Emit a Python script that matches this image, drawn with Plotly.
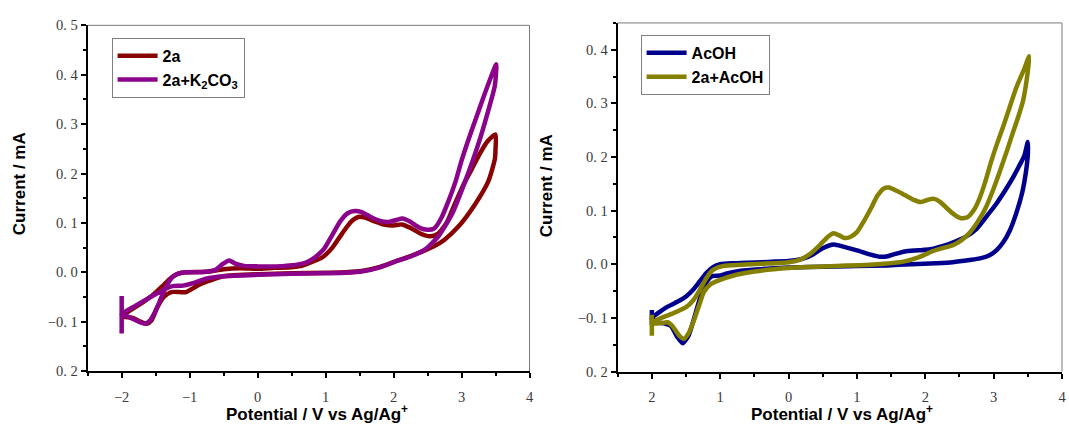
import plotly.graph_objects as go

W, H = 1069, 434

# ---------------- data ----------------
x_2a = [-2.00, -1.85, -1.70, -1.55, -1.40, -1.28, -1.18, -1.05, -0.76, -0.50, -0.25, 0.00, 0.25, 0.50, 0.65, 0.80, 0.95,
        1.10, 1.25, 1.38, 1.48, 1.58, 1.72, 1.88, 2.00, 2.12, 2.25, 2.40, 2.54, 2.65, 2.78, 2.90, 3.02, 3.15, 3.28, 3.38, 3.50,
        3.50, 3.49, 3.39, 3.20, 2.95, 2.75, 2.60, 2.47, 2.27, 2.07, 1.80, 1.55, 1.30, 1.00, 0.50, 0.00, -0.50, -0.61,
        -0.86, -1.05, -1.15, -1.27, -1.38, -1.48, -1.56, -1.63, -1.72, -1.85, -2.00]
y_2a = [-0.088, -0.075, -0.062, -0.047, -0.028, -0.012, -0.003, 0.000, 0.001, 0.006, 0.008, 0.007, 0.009, 0.010, 0.013, 0.021, 0.030,
        0.050, 0.080, 0.103, 0.112, 0.111, 0.103, 0.096, 0.095, 0.097, 0.090, 0.078, 0.073, 0.078, 0.100, 0.138, 0.175, 0.209, 0.243, 0.265, 0.279,
        0.250, 0.229, 0.183, 0.138, 0.092, 0.066, 0.053, 0.045, 0.034, 0.024, 0.011, 0.003, 0.000, -0.001, -0.002, -0.004, -0.008, -0.012,
        -0.025, -0.040, -0.040, -0.040, -0.050, -0.072, -0.097, -0.104, -0.100, -0.092, -0.090]

x_k2co3 = [-2.00, -1.90, -1.78, -1.66, -1.58, -1.50, -1.42, -1.33, -1.24, -1.12, -0.95, -0.76, -0.62, -0.52, -0.42, -0.32, -0.20,
           0.00, 0.20, 0.40, 0.60, 0.72, 0.85, 0.98, 1.10, 1.22, 1.33, 1.43, 1.53, 1.65, 1.80, 1.93, 2.04, 2.13, 2.24, 2.37, 2.50,
           2.60, 2.71, 2.81, 2.91, 3.00, 3.10, 3.20, 3.30, 3.44, 3.51,
           3.49, 3.39, 3.25, 3.05, 2.86, 2.66, 2.47, 2.27, 2.07, 1.80, 1.55, 1.30, 1.00, 0.50, 0.00, -0.50, -0.76, -0.95,
           -1.10, -1.25, -1.35, -1.60, -1.80, -2.00]
y_k2co3 = [-0.085, -0.090, -0.098, -0.104, -0.097, -0.078, -0.052, -0.025, -0.008, -0.001, 0.000, 0.001, 0.005, 0.016, 0.024, 0.017, 0.013,
           0.012, 0.012, 0.013, 0.016, 0.020, 0.031, 0.048, 0.076, 0.104, 0.120, 0.124, 0.122, 0.113, 0.104, 0.102, 0.106, 0.109, 0.103, 0.091, 0.086,
           0.089, 0.112, 0.145, 0.183, 0.226, 0.268, 0.307, 0.346, 0.398, 0.421,
           0.378, 0.326, 0.261, 0.183, 0.118, 0.073, 0.047, 0.033, 0.024, 0.010, 0.002, -0.001, -0.002, -0.003, -0.005, -0.008, -0.013, -0.022,
           -0.027, -0.028, -0.033, -0.052, -0.068, -0.085]
spike_k2co3_x = [-2.0, -2.0]
spike_k2co3_y = [-0.048, -0.124]

x_acoh = [-2.00, -1.90, -1.77, -1.60, -1.50, -1.40, -1.30, -1.20, -1.10, -1.00, -0.80, -0.40, 0.00, 0.20, 0.35, 0.50, 0.66, 0.80,
          1.00, 1.20, 1.34, 1.45, 1.55, 1.70, 1.90, 2.07, 2.25, 2.41, 2.60, 2.75, 2.90, 3.04, 3.17, 3.28, 3.38, 3.45, 3.50,
          3.50, 3.47, 3.42, 3.33, 3.24, 3.14, 3.04, 2.94, 2.80, 2.65, 2.40, 2.16, 1.80, 1.44, 1.00, 0.71, 0.30, 0.00, -0.41,
          -0.70, -0.90, -1.00, -1.12, -1.21, -1.30, -1.38, -1.46, -1.55, -1.63, -1.72, -1.82, -1.92, -2.00]
y_acoh = [-0.100, -0.090, -0.079, -0.068, -0.060, -0.048, -0.032, -0.016, -0.005, 0.000, 0.002, 0.004, 0.006, 0.010, 0.018, 0.030, 0.037, 0.033,
          0.026, 0.018, 0.014, 0.015, 0.019, 0.024, 0.026, 0.028, 0.034, 0.041, 0.052, 0.066, 0.090, 0.113, 0.138, 0.161, 0.185, 0.203, 0.228,
          0.205, 0.170, 0.135, 0.095, 0.064, 0.041, 0.026, 0.017, 0.011, 0.008, 0.004, 0.002, 0.000, -0.002, -0.003, -0.004, -0.005, -0.006, -0.009,
          -0.012, -0.017, -0.021, -0.022, -0.035, -0.065, -0.100, -0.132, -0.147, -0.135, -0.115, -0.110, -0.108, -0.100]
spike_acoh_x = [-2.0, -2.0]
spike_acoh_y = [-0.085, -0.112]

x_2a_acoh = [-2.00, -1.90, -1.72, -1.50, -1.40, -1.30, -1.20, -1.10, -0.95, -0.70, -0.40, 0.00, 0.15, 0.30, 0.45, 0.58, 0.66, 0.74,
             0.82, 0.90, 1.00, 1.10, 1.20, 1.30, 1.40, 1.47, 1.58, 1.70, 1.83, 1.93, 2.03, 2.13, 2.22, 2.32, 2.42, 2.52, 2.62,
             2.72, 2.80, 2.88, 2.96, 3.05, 3.14, 3.24, 3.33, 3.45, 3.52,
             3.50, 3.43, 3.36, 3.28, 3.19, 3.09, 2.99, 2.89, 2.77, 2.65, 2.53, 2.41, 2.25, 2.10, 1.90, 1.68, 1.40, 1.19, 0.71,
             0.30, 0.00, -0.41, -0.75, -1.04, -1.15, -1.24, -1.31, -1.38, -1.46, -1.53, -1.60, -1.70, -1.77, -1.88, -2.00]
y_2a_acoh = [-0.110, -0.102, -0.093, -0.080, -0.068, -0.048, -0.025, -0.010, -0.003, -0.001, 0.001, 0.004, 0.008, 0.018, 0.035, 0.052, 0.058, 0.054,
             0.049, 0.051, 0.060, 0.080, 0.103, 0.128, 0.142, 0.143, 0.137, 0.129, 0.120, 0.116, 0.120, 0.122, 0.116, 0.104, 0.093, 0.086, 0.088,
             0.103, 0.125, 0.155, 0.190, 0.225, 0.257, 0.295, 0.329, 0.365, 0.388,
             0.360, 0.305, 0.275, 0.245, 0.210, 0.173, 0.138, 0.107, 0.080, 0.059, 0.045, 0.036, 0.030, 0.024, 0.013, 0.005, 0.001, -0.001, -0.003,
             -0.005, -0.007, -0.012, -0.019, -0.031, -0.038, -0.052, -0.077, -0.103, -0.128, -0.139, -0.133, -0.115, -0.108, -0.110, -0.110]
spike_2a_acoh_x = [-2.0, -2.0]
spike_2a_acoh_y = [-0.094, -0.133]

x_tickvals = [-2, -1, 0, 1, 2, 3, 4]
x_ticktext_left = ["\u22122", "\u22121", "0", "1", "2", "3", "4"]
x_ticktext_right = ["2", "1", "0", "1", "2", "3", "4"]
y_tickvals_left = [-0.2, -0.1, 0.0, 0.1, 0.2, 0.3, 0.4, 0.5]
y_ticktext_left = ["0. 2", "\u22120. 1", "0. 0", "0. 1", "0. 2", "0. 3", "0. 4", "0. 5"]
y_tickvals_right = [-0.2, -0.1, 0.0, 0.1, 0.2, 0.3, 0.4]
y_ticktext_right = ["0. 2", "\u22120. 1", "0. 0", "0. 1", "0. 2", "0. 3", "0. 4"]
x_minor = [-2.5, -1.5, -0.5, 0.5, 1.5, 2.5, 3.5]
y_minor = [-0.15, -0.05, 0.05, 0.15, 0.25, 0.35, 0.45]

C_RED = "#880404"
C_PURPLE = "#8A038A"
C_BLUE = "#00008C"
C_OLIVE = "#858000"

# ---------------- figure ----------------
fig = go.Figure()


def line(x, y, color, name, xa, ya, legend, show=True):
    fig.add_trace(go.Scatter(
        x=x, y=y, mode="lines", name=name, xaxis=xa, yaxis=ya, legend=legend,
        showlegend=show,
        line=dict(color=color, width=4.5, shape="spline", smoothing=0.6)))


line(x_2a, y_2a, C_RED, "2a", "x", "y", "legend")
line(x_k2co3, y_k2co3, C_PURPLE, "2a+K<sub>2</sub>CO<sub>3</sub>", "x", "y", "legend")
line(spike_k2co3_x, spike_k2co3_y, C_PURPLE, "s1", "x", "y", "legend", show=False)
line(x_acoh, y_acoh, C_BLUE, "AcOH", "x2", "y2", "legend2")
line(spike_acoh_x, spike_acoh_y, C_BLUE, "s2", "x2", "y2", "legend2", show=False)
line(x_2a_acoh, y_2a_acoh, C_OLIVE, "2a+AcOH", "x2", "y2", "legend2")
line(spike_2a_acoh_x, spike_2a_acoh_y, C_OLIVE, "s3", "x2", "y2", "legend2", show=False)

tick_font = dict(family="Liberation Serif, serif", size=14.5, color="#3a3a3a")


def xaxis(domain, anchor, ticktext):
    return dict(domain=domain, anchor=anchor, range=[-2.5, 4], tickvals=x_tickvals, ticktext=ticktext,
                ticks="outside", ticklen=5, tickwidth=1.5, tickcolor="black",
                showline=True, linecolor="black", linewidth=2, showgrid=False, zeroline=False,
                tickfont=tick_font, ticklabelstandoff=6,
                minor=dict(tickvals=x_minor, ticks="outside", ticklen=3, tickwidth=1.5, tickcolor="black", showgrid=False))


def yaxis(domain, anchor, rng, tv, tt):
    return dict(domain=domain, anchor=anchor, range=rng, tickvals=tv, ticktext=tt,
                ticks="outside", ticklen=5, tickwidth=1.5, tickcolor="black",
                showline=True, linecolor="black", linewidth=2, showgrid=False, zeroline=False,
                tickfont=tick_font,
                minor=dict(tickvals=y_minor, ticks="outside", ticklen=3, tickwidth=1.5, tickcolor="black", showgrid=False))


Lx = [88 / W, 531.5 / W]
Ly = [1 - 377 / H, 1 - 18 / H]
Rx = [620 / W, 1066 / W]
Ry = [1 - 377.5 / H, 1 - 15.5 / H]

legend_font = dict(family="Liberation Sans, Arial", size=16, color="black", weight="bold")
fig.update_layout(
    width=W, height=H, margin=dict(l=0, r=0, t=0, b=0),
    paper_bgcolor="white", plot_bgcolor="white",
    xaxis=xaxis(Lx, "y", x_ticktext_left),
    yaxis=yaxis(Ly, "x", [-0.2, 0.5], y_tickvals_left, y_ticktext_left),
    xaxis2=xaxis(Rx, "y2", x_ticktext_right),
    yaxis2=yaxis(Ry, "x2", [-0.2, 0.45], y_tickvals_right, y_ticktext_right),
    legend=dict(x=112 / W, y=1 - 31 / H, xanchor="left", yanchor="top",
                bordercolor="#808080", borderwidth=1, bgcolor="white",
                font=legend_font, itemwidth=40),
    legend2=dict(x=643 / W, y=1 - 28 / H, xanchor="left", yanchor="top",
                 bordercolor="#808080", borderwidth=1, bgcolor="white",
                 font=legend_font, itemwidth=40),
    showlegend=True,
)

# thin gray top/right frame
for xr, yr in (("x domain", "y domain"), ("x2 domain", "y2 domain")):
    fig.add_shape(type="line", xref=xr, yref=yr, x0=0, x1=1, y0=1, y1=1, line=dict(color="#7a7a7a", width=1))
    fig.add_shape(type="line", xref=xr, yref=yr, x0=1, x1=1, y0=0, y1=1, line=dict(color="#7a7a7a", width=1))

title_font = dict(family="Liberation Sans, Arial", size=17, color="black", weight="bold")
fig.add_annotation(text="Current / mA", xref="paper", yref="paper", x=19 / W, y=1 - 182 / H,
                   textangle=-90, showarrow=False, font=title_font, xanchor="center", yanchor="middle")
fig.add_annotation(text="Current / mA", xref="paper", yref="paper", x=548 / W, y=1 - 184 / H,
                   textangle=-90, showarrow=False, font=title_font, xanchor="center", yanchor="middle")
fig.add_annotation(text="Potential / V vs Ag/Ag<sup>+</sup>", xref="paper", yref="paper", x=318 / W, y=1 - 421 / H,
                   showarrow=False, font=title_font, xanchor="center", yanchor="middle")
fig.add_annotation(text="Potential / V vs Ag/Ag<sup>+</sup>", xref="paper", yref="paper", x=845 / W, y=1 - 421 / H,
                   showarrow=False, font=title_font, xanchor="center", yanchor="middle")

fig.write_html("out.html")
